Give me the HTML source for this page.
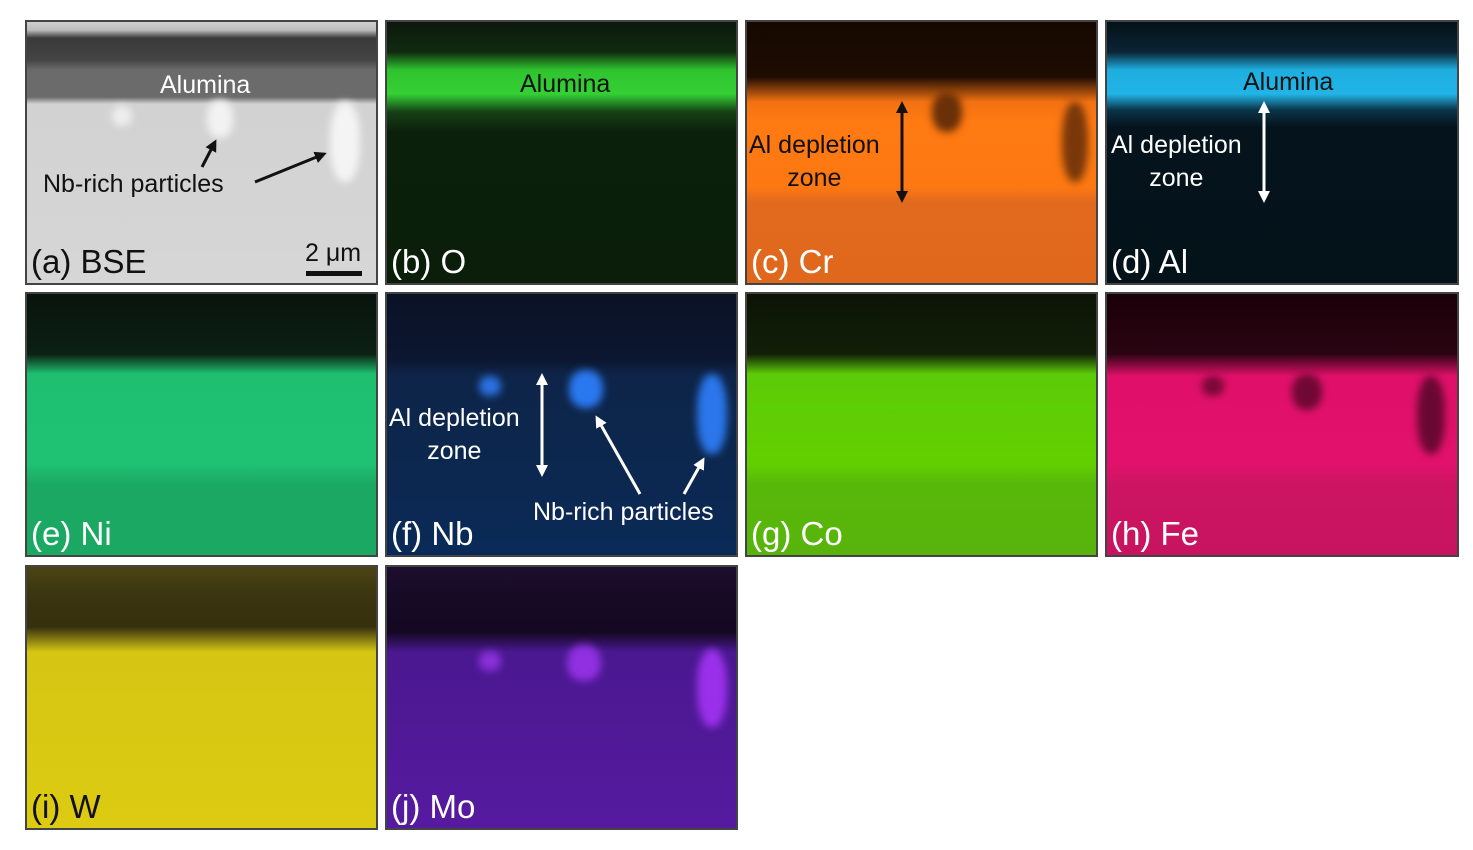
<!DOCTYPE html>
<html><head><meta charset="utf-8"><style>
body{margin:0;background:#fff;width:1473px;height:850px;position:relative;overflow:hidden;font-family:"Liberation Sans",Arial,sans-serif}
.p{position:absolute;box-sizing:border-box;border:2px solid #444;overflow:hidden}
.lab{position:absolute;left:4px;bottom:2px;font-size:33px;color:#fff;white-space:nowrap}
.t{position:absolute;font-size:25px;color:#fff;white-space:nowrap;text-align:center;line-height:33px}
.blob{position:absolute;border-radius:45%;filter:blur(4px)}
svg{position:absolute;left:0;top:0}
</style></head><body>

<div class="p" style="left:25px;top:20px;width:353px;height:265px;background:linear-gradient(#cfcfcf 0px,#bdbdbd 8px,#3a3a3a 16px,#444 38px,#6b6b6b 48px,#6b6b6b 75px,#d2d2d2 82px,#d6d6d6 100%)">
 <div class="blob" style="left:180px;top:78px;width:26px;height:38px;background:#f2f2f2"></div>
 <div class="blob" style="left:85px;top:84px;width:20px;height:20px;background:#eee"></div>
 <div class="blob" style="left:303px;top:80px;width:30px;height:80px;background:#f4f4f4"></div>
 <div class="t" style="left:133px;top:47px">Alumina</div>
 <div class="t" style="left:16px;top:146px;color:#111">Nb-rich particles</div>
 <svg width="353" height="265"><defs><marker id="ak" markerUnits="userSpaceOnUse" markerWidth="12" markerHeight="12" refX="9" refY="6" orient="auto"><path d="M0,0L12,6L0,12z" fill="#111"/></marker></defs>
 <line x1="175" y1="145" x2="188" y2="120" stroke="#111" stroke-width="3" marker-end="url(#ak)"/>
 <line x1="228" y1="160" x2="297" y2="132" stroke="#111" stroke-width="3" marker-end="url(#ak)"/>
 <rect x="279" y="249" width="56" height="5" fill="#111"/></svg>
 <div class="t" style="left:278px;top:215px;color:#111">2 μm</div>
 <div class="lab" style="color:#111">(a) BSE</div>
</div>

<div class="p" style="left:385px;top:20px;width:353px;height:265px;background:linear-gradient(#0c180c 0px,#102a10 30px,#2fc42f 48px,#34d034 72px,#164016 90px,#0b200b 110px,#0a1e0a 100%)">
 <div class="t" style="left:133px;top:46px;color:#111">Alumina</div>
 <div class="lab">(b) O</div>
</div>

<div class="p" style="left:745px;top:20px;width:353px;height:265px;background:linear-gradient(#160800 0px,#1e0c02 55px,#f27212 80px,#ff7a12 100px,#fd7812 165px,#e26a1e 180px,#e0681c 100%)">
 <div class="blob" style="left:185px;top:70px;width:30px;height:40px;background:#6a3008"></div>
 <div class="blob" style="left:315px;top:80px;width:26px;height:80px;background:#7a380a"></div>
 <div class="t" style="left:2px;top:107px;color:#111">Al depletion<br>zone</div>
 <svg width="353" height="265"><defs><marker id="bk" markerUnits="userSpaceOnUse" markerWidth="12" markerHeight="12" refX="9" refY="6" orient="auto"><path d="M0,0L12,6L0,12z" fill="#111"/></marker></defs>
 <line x1="155" y1="130" x2="155" y2="178" stroke="#111" stroke-width="3" marker-end="url(#bk)"/>
 <line x1="155" y1="130" x2="155" y2="82" stroke="#111" stroke-width="3" marker-end="url(#bk)"/></svg>
 <div class="lab">(c) Cr</div>
</div>

<div class="p" style="left:1105px;top:20px;width:354px;height:265px;background:linear-gradient(#04121a 0px,#0a2434 30px,#1eaee0 48px,#22b4e6 72px,#0a3448 88px,#05141c 105px,#04121a 100%)">
 <div class="t" style="left:136px;top:44px;color:#111">Alumina</div>
 <div class="t" style="left:4px;top:107px">Al depletion<br>zone</div>
 <svg width="354" height="265"><defs><marker id="wk" markerUnits="userSpaceOnUse" markerWidth="12" markerHeight="12" refX="9" refY="6" orient="auto"><path d="M0,0L12,6L0,12z" fill="#fff"/></marker></defs>
 <line x1="157" y1="130" x2="157" y2="178" stroke="#fff" stroke-width="3" marker-end="url(#wk)"/>
 <line x1="157" y1="130" x2="157" y2="82" stroke="#fff" stroke-width="3" marker-end="url(#wk)"/></svg>
 <div class="lab">(d) Al</div>
</div>

<div class="p" style="left:25px;top:292px;width:353px;height:265px;background:linear-gradient(#08140c 0px,#0c2014 60px,#1ec070 80px,#1fc273 170px,#1aa862 190px,#1aa862 100%)">
 <div class="lab">(e) Ni</div>
</div>

<div class="p" style="left:385px;top:292px;width:353px;height:265px;background:linear-gradient(#0a1226 0px,#0c1630 65px,#0e2448 80px,#0c2850 180px,#0a2a58 100%)">
 <div class="blob" style="left:92px;top:82px;width:22px;height:20px;background:#2a70e0"></div>
 <div class="blob" style="left:182px;top:76px;width:34px;height:38px;background:#2a78f0"></div>
 <div class="blob" style="left:310px;top:80px;width:30px;height:80px;background:#2a76ea"></div>
 <div class="t" style="left:2px;top:108px">Al depletion<br>zone</div>
 <div class="t" style="left:146px;top:202px">Nb-rich particles</div>
 <svg width="353" height="265"><defs><marker id="wf" markerUnits="userSpaceOnUse" markerWidth="12" markerHeight="12" refX="9" refY="6" orient="auto"><path d="M0,0L12,6L0,12z" fill="#fff"/></marker></defs>
 <line x1="155" y1="130" x2="155" y2="180" stroke="#fff" stroke-width="3" marker-end="url(#wf)"/>
 <line x1="155" y1="130" x2="155" y2="82" stroke="#fff" stroke-width="3" marker-end="url(#wf)"/>
 <line x1="253" y1="200" x2="210" y2="124" stroke="#fff" stroke-width="3" marker-end="url(#wf)"/>
 <line x1="297" y1="200" x2="316" y2="166" stroke="#fff" stroke-width="3" marker-end="url(#wf)"/></svg>
 <div class="lab">(f) Nb</div>
</div>

<div class="p" style="left:745px;top:292px;width:353px;height:265px;background:linear-gradient(#0c1406 0px,#121e08 60px,#5ccc08 80px,#62d000 170px,#58b80a 190px,#58b40c 100%)">
 <div class="lab">(g) Co</div>
</div>

<div class="p" style="left:1105px;top:292px;width:354px;height:265px;background:linear-gradient(#1a0008 0px,#2a0412 60px,#e0106a 82px,#e2126c 170px,#cc1462 190px,#c81460 100%)">
 <div class="blob" style="left:95px;top:82px;width:22px;height:20px;background:#7a0838"></div>
 <div class="blob" style="left:185px;top:80px;width:30px;height:36px;background:#700834"></div>
 <div class="blob" style="left:310px;top:82px;width:28px;height:78px;background:#6a0832"></div>
 <div class="lab">(h) Fe</div>
</div>

<div class="p" style="left:25px;top:565px;width:353px;height:265px;background:linear-gradient(#4a4414 0px,#3a3410 30px,#36300e 60px,#d6c614 85px,#dccb12 100%)">
 <div class="lab" style="color:#111">(i) W</div>
</div>

<div class="p" style="left:385px;top:565px;width:353px;height:265px;background:linear-gradient(#1e0e2e 0px,#160a24 30px,#140822 65px,#4a1890 85px,#561aa0 100%)">
 <div class="blob" style="left:92px;top:84px;width:22px;height:20px;background:#8a30d8"></div>
 <div class="blob" style="left:180px;top:78px;width:34px;height:36px;background:#9030e0"></div>
 <div class="blob" style="left:310px;top:82px;width:30px;height:78px;background:#9a30ea"></div>
 <div class="lab">(j) Mo</div>
</div>

</body></html>
